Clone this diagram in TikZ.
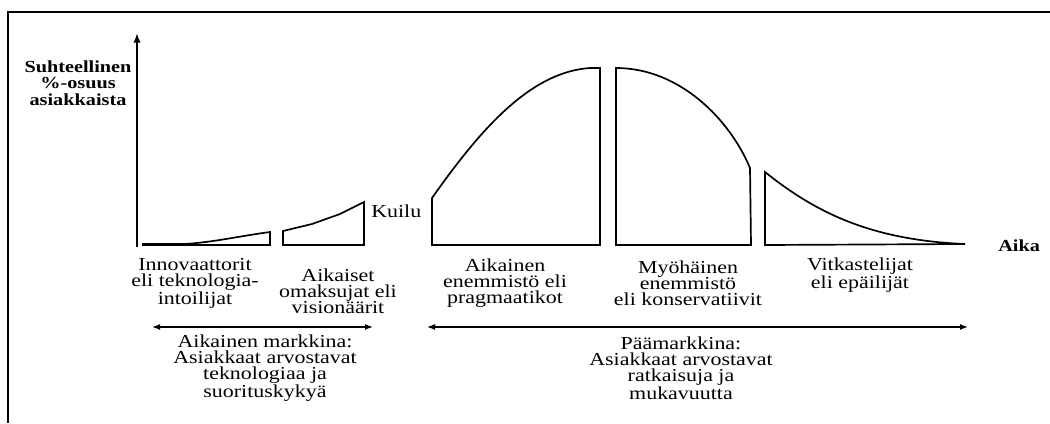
\documentclass[tikz,border=0pt]{standalone}
\usepackage{fontspec}
\setmainfont{Liberation Serif}[FakeStretch=1.2]
\usetikzlibrary{arrows.meta, positioning}

\begin{document}
\begin{tikzpicture}[
    x=0.025cm, y=-0.025cm,
    seg/.style={draw, line width=1.2pt, line join=miter},
    lbl/.style={font=\fontsize{13}{11.5}\selectfont, align=center, inner sep=0pt},
    axislbl/.style={font=\fontsize{12}{11.8}\selectfont\bfseries, align=center, inner sep=0pt},
    market/.style={{Latex[length=2mm,width=1.5mm]}-{Latex[length=2mm,width=1.5mm]}, line width=1pt},
    axisarr/.style={-{Latex[length=2.4mm,width=1.8mm]}, line width=1.2pt}
]
\useasboundingbox (0,0) rectangle (1050,423);
\draw[line width=1.6pt] (8,423) -- (8,12) -- (1050,12);

\coordinate (origin) at (137,247);
\coordinate (ytop)   at (137,33);
\draw[axisarr] (origin) -- (ytop);

\draw[seg] (143,244) -- (185,244) .. controls (215,242) and (240,236) .. (270,232) -- (270,245) -- (143,245) -- cycle;
\draw[seg] (283,245) -- (283,231) -- (312,224) -- (340,214) -- (364,202) -- (364,245) -- cycle;
\draw[seg] (432,245) -- (432,198) .. controls (480,130) and (530,72) .. (590,68) -- (600,68) -- (600,245) -- cycle;
\draw[seg] (616,245) -- (616,68) .. controls (680,68) and (730,120) .. (750,168) -- (751,245) -- cycle;
\draw[seg] (765,245) -- (765,172) .. controls (815,212) and (870,240) .. (965,244) -- cycle;

\node[axislbl]             (ylbl)  at (78,83)   {Suhteellinen\\\%-osuus\\asiakkaista};
\node[lbl, anchor=west]    (kuilu) at (371,211) {Kuilu};
\node[axislbl, anchor=west](aika)  at (998,246) {Aika};

\node[lbl] (inno)  at (195,283) {Innovaattorit\\eli teknologia-\\intoilijat};
\node[lbl] (early) at (338,291) {Aikaiset\\omaksujat eli\\visionäärit};
\node[lbl] (emaj)  at (505,283) {Aikainen\\enemmistö eli\\pragmaatikot};
\node[lbl] (lmaj)  at (688,283) {Myöhäinen\\enemmistö\\eli konservatiivit};
\node[lbl] (lagg)  at (860,275) {Vitkastelijat\\eli epäilijät};

\coordinate (early1) at (152,327);
\coordinate (early2) at (373,327);
\coordinate (main1)  at (427,327);
\coordinate (main2)  at (968,327);
\draw[market] (early1) -- (early2);
\draw[market] (main1) -- (main2);

\node[lbl] (earlymkt) at (265,368) {Aikainen markkina:\\Asiakkaat arvostavat\\teknologiaa ja\\suorituskykyä};
\node[lbl] (mainmkt)  at (681,368) {Päämarkkina:\\Asiakkaat arvostavat\\ratkaisuja ja\\mukavuutta};
\end{tikzpicture}
\end{document}
